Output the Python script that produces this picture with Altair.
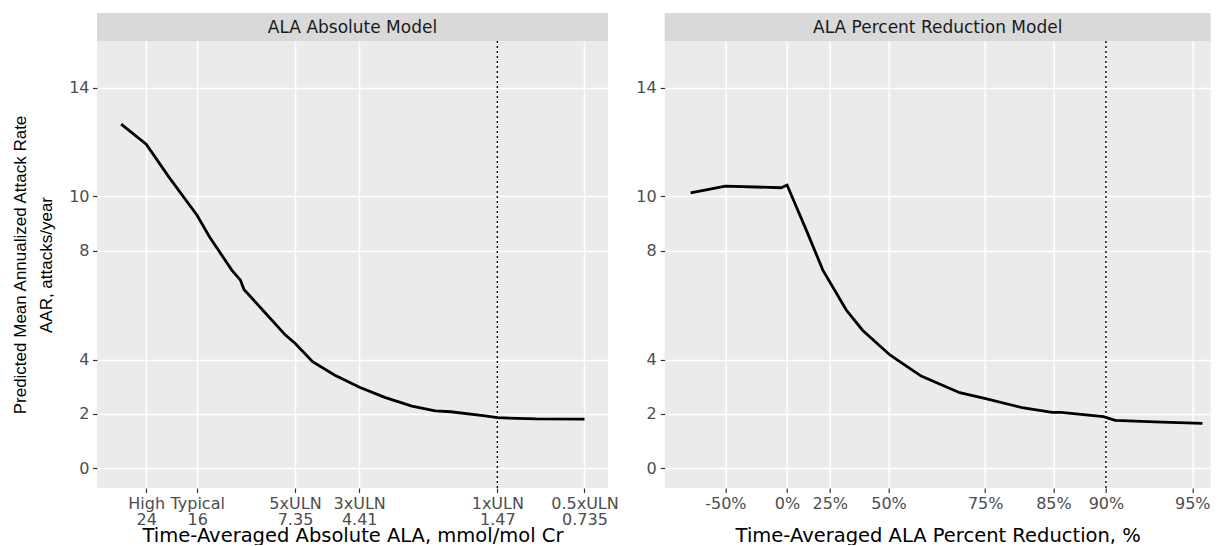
import altair as alt
import pandas as pd

# ---------------- data ----------------
# Left panel: time-averaged absolute ALA (mmol/mol Cr) vs predicted AAR
abs_ala = [29.3, 24.0, 20.0, 16.0, 14.5, 12.15, 11.34, 11.03, 9.37, 7.93, 7.35,
           6.39, 5.37, 4.4, 3.6, 2.9, 2.41, 2.13, 1.62, 1.47, 1.08, 0.735]
abs_aar = [12.66, 11.92, 10.7, 9.3, 8.51, 7.29, 6.92, 6.58, 5.75, 4.90, 4.6,
           3.92, 3.43, 2.98, 2.61, 2.29, 2.11, 2.08, 1.93, 1.86, 1.82, 1.81]

# Right panel: time-averaged ALA percent reduction (%) vs predicted AAR
pct_red = [-87.6, -50, -4, 0, 12.1, 21.4, 33, 40.1, 50.5, 54.4, 60.3,
           69.9, 74.9, 81, 84.85, 85.85, 89.8, 90.7, 93.2, 95.4]
pct_aar = [10.13, 10.38, 10.32, 10.42, 8.76, 7.29, 5.82, 5.08, 4.17, 3.88,
           3.39, 2.78, 2.57, 2.23, 2.06, 2.06, 1.90, 1.76, 1.71, 1.65]

abs_tick_values = [24, 16, 7.35, 4.41, 1.47, 0.735]
abs_tick_names = ["High", "Typical", "5xULN", "3xULN", "1xULN", "0.5xULN"]
abs_tick_text = ["24", "16", "7.35", "4.41", "1.47", "0.735"]

pct_tick_values = [-50, 0, 25, 50, 75, 85, 90, 95]
y_tick_values = [0, 2, 4, 8, 10, 14]

abs_ref_line = [1.47]
pct_ref_line = [90]

panel_titles = ["ALA Absolute Model", "ALA Percent Reduction Model"]
x_titles = ["Time-Averaged Absolute ALA, mmol/mol Cr",
            "Time-Averaged ALA Percent Reduction, %"]
y_title = ["Predicted Mean Annualized Attack Rate", "AAR, attacks/year"]

# ---------------- layout / style ----------------
H = 447
W_LEFT = 511
W_RIGHT = 546
STRIP_H = 28
FONT = "DejaVu Sans"

abs_df = pd.DataFrame({"ala": abs_ala, "aar": abs_aar})
pct_df = pd.DataFrame({"pct": pct_red, "aar": pct_aar})

y_scale = alt.Scale(domain=[-0.725, 15.718], nice=False, zero=False)

label_expr_left = " : ".join(
    f"datum.value == {v} ? ['{n}', '{t}']"
    for v, n, t in zip(abs_tick_values, abs_tick_names, abs_tick_text)
) + " : ''"

x_axis_common = dict(
    labelOverlap=False, labelFlush=False, labelBound=False,
    labelLineHeight=15.5, labelPadding=3,
    titleFont=FONT, titleFontSize=19.5, titleColor="black",
    titleFontWeight="normal", titleY=53, titleBaseline="alphabetic",
)


def strip(title, width):
    d = pd.DataFrame({"t": [title]})
    rect = alt.Chart(d).mark_rect(color="#D9D9D9").encode(
        x=alt.value(0), x2=alt.value(width),
        y=alt.value(-STRIP_H), y2=alt.value(0),
    )
    txt = alt.Chart(d).mark_text(
        font=FONT, fontSize=17, color="#1A1A1A", baseline="alphabetic", align="center"
    ).encode(text="t:N", x=alt.value(width / 2), y=alt.value(-8.5))
    return rect + txt


# Left panel
left_line = alt.Chart(abs_df).mark_line(color="black", strokeWidth=2.8).encode(
    x=alt.X("ala:Q",
            scale=alt.Scale(type="log", domain=[0.6096, 35.5], reverse=True, nice=False),
            axis=alt.Axis(values=abs_tick_values, labelExpr=label_expr_left,
                          title=x_titles[0], **x_axis_common)),
    y=alt.Y("aar:Q", scale=y_scale,
            axis=alt.Axis(values=y_tick_values, title=y_title,
                          titleFont="Liberation Sans", titleFontSize=17,
                          titleFontWeight="normal", titleColor="black",
                          titleLineHeight=25.7, titleAngle=270,
                          titleX=-76.3, titleY=H / 2,
                          titleAlign="center", titleBaseline="middle",
                          labelPadding=3.5)),
)
left_rule = alt.Chart(pd.DataFrame({"ala": abs_ref_line})).mark_rule(
    color="black", strokeDash=[2, 3], strokeWidth=1.4
).encode(x="ala:Q")

left = alt.layer(left_line, left_rule, strip(panel_titles[0], W_LEFT)).properties(
    width=W_LEFT, height=H
)

# Right panel (axis position uses remaining fraction 100 - reduction)
right_x_scale = alt.Scale(type="pow", exponent=0.07, domain=[4.294, 221.1],
                          reverse=True, nice=False, zero=False)
right_line = alt.Chart(pct_df).transform_calculate(
    remaining="100 - datum.pct"
).mark_line(color="black", strokeWidth=2.8).encode(
    x=alt.X("remaining:Q", scale=right_x_scale,
            axis=alt.Axis(values=[100 - v for v in pct_tick_values],
                          labelExpr="(100 - datum.value) + '%'",
                          title=x_titles[1], **x_axis_common)),
    y=alt.Y("aar:Q", scale=y_scale,
            axis=alt.Axis(values=y_tick_values, title=None, labelPadding=4)),
)
right_rule = alt.Chart(pd.DataFrame({"pct": pct_ref_line})).transform_calculate(
    remaining="100 - datum.pct"
).mark_rule(color="black", strokeDash=[2, 3], strokeWidth=1.4).encode(x="remaining:Q")

right = alt.layer(right_line, right_rule, strip(panel_titles[1], W_RIGHT)).properties(
    width=W_RIGHT, height=H
)

chart = alt.hconcat(left, right, spacing=56.7, bounds="flush").properties(
    padding={"left": 3, "top": 5, "right": 0, "bottom": 0}
).configure_view(
    fill="#EBEBEB", stroke=None
).configure_axis(
    grid=True, gridColor="white", gridWidth=1.5, domain=False,
    tickColor="#333333", tickWidth=1.2, tickSize=4.5,
    labelColor="#4D4D4D", labelFont=FONT, labelFontSize=16,
)

chart.save("out.html", embed_options={"renderer": "svg", "actions": False})
